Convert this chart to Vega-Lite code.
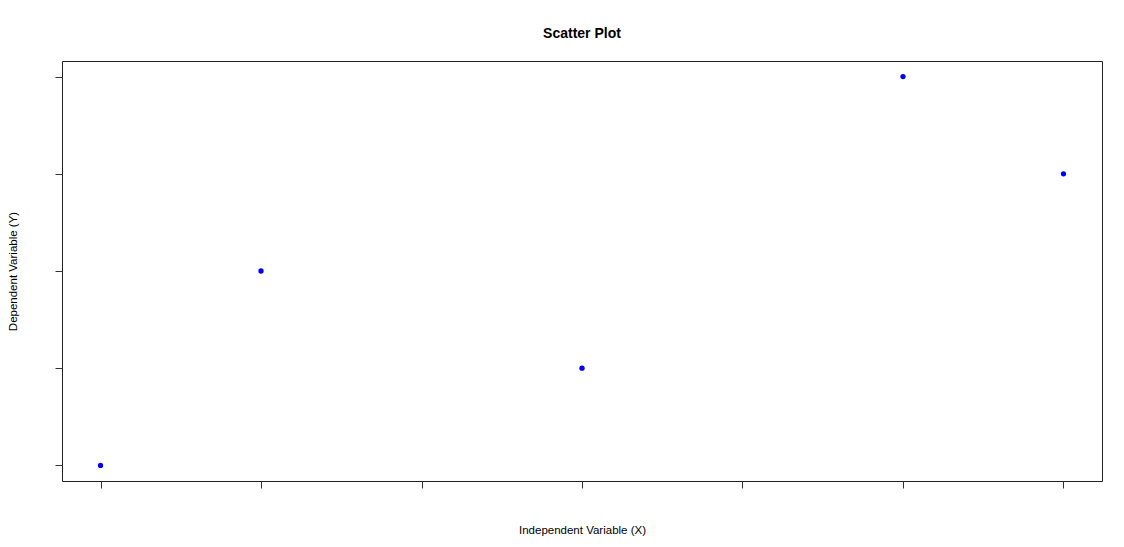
{
  "$schema": "https://vega.github.io/schema/vega-lite/v6.json",
  "autosize": {"type": "none"},
  "width": 1040,
  "height": 420,
  "padding": {"left": 62, "top": 61, "right": 22, "bottom": 66},
  "background": "white",
  "title": {
    "text": "Scatter Plot",
    "font": "Liberation Sans",
    "fontSize": 14,
    "fontWeight": "bold",
    "color": "black",
    "anchor": "middle",
    "offset": 20
  },
  "config": {
    "view": {"stroke": "#222222", "strokeWidth": 1},
    "axis": {
      "labels": false,
      "grid": false,
      "domain": false,
      "ticks": true,
      "tickSize": 7,
      "tickColor": "#333333",
      "tickWidth": 1,
      "titleFont": "Liberation Sans",
      "titleFontSize": 11.5,
      "titleFontWeight": "normal",
      "titleColor": "black"
    }
  },
  "data": {
    "values": [
      {"x": 1, "y": 1},
      {"x": 2, "y": 3},
      {"x": 4, "y": 2},
      {"x": 6, "y": 5},
      {"x": 7, "y": 4}
    ]
  },
  "mark": {"type": "point", "filled": true, "shape": "circle", "color": "#0000ff", "size": 28, "opacity": 1},
  "encoding": {
    "x": {
      "field": "x",
      "type": "quantitative",
      "scale": {"domain": [0.76, 7.24], "nice": false, "zero": false},
      "axis": {"title": "Independent Variable (X)", "values": [1, 2, 3, 4, 5, 6, 7], "titlePadding": 36}
    },
    "y": {
      "field": "y",
      "type": "quantitative",
      "scale": {"domain": [0.84, 5.16], "nice": false, "zero": false},
      "axis": {"title": "Dependent Variable (Y)", "values": [1, 2, 3, 4, 5], "titlePadding": 36}
    }
  }
}
